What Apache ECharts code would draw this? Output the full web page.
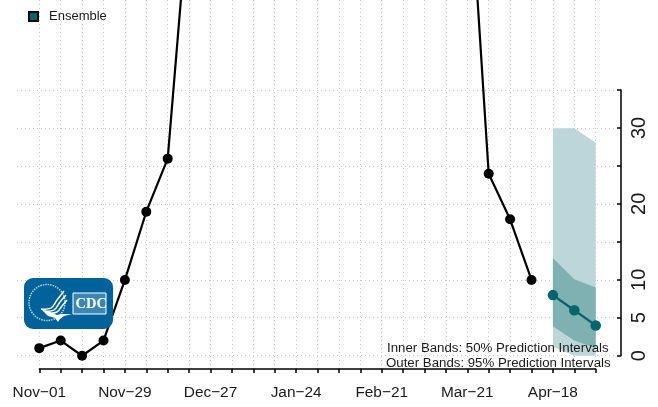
<!DOCTYPE html>
<html><head><meta charset="utf-8">
<script src="https://cdn.jsdelivr.net/npm/echarts@6/dist/echarts.min.js"></script>
<style>html,body{margin:0;padding:0;background:#fff}#c{width:658px;height:407px}</style>
</head><body><div id="c"></div>
<script>
var weeks = ['Nov-01','Nov-08','Nov-15','Nov-22','Nov-29','Dec-06','Dec-13','Dec-20','Dec-27','Jan-03','Jan-10','Jan-17','Jan-24','Jan-31','Feb-07','Feb-14','Feb-21','Feb-28','Mar-07','Mar-14','Mar-21','Mar-28','Apr-04','Apr-11','Apr-18','Apr-25','May-02'];
var labelledWeeks = ['Nov-01','Nov-29','Dec-27','Jan-24','Feb-21','Mar-21','Apr-18'];
// null = above the visible part of the plot, cannot be read
var observed = [1,2,0,2,10,19,26,60,null,null,null,null,null,null,null,null,null,null,null,null,68,24,18,10,null,null,null];
var forecastWeeks = ['Apr-18','Apr-25','May-02'];
var ensemble = [8,6,4];
var outerLow = [1.2,0,0];
var outerHigh = [30,30,28.1];
var innerLow = [3.9,2,1];
var innerHigh = [12.9,10.1,9];
var yTicksShown = [0,5,10,20,30];
var TEAL = '#00666b';

function band(low, high, color, name){
  return {
    type:'custom', name:name, xAxisIndex:0, yAxisIndex:0, silent:true, z:2,
    data:[[forecastWeeks[0], high[0]]],
    renderItem:function(p, api){
      var pts=[], i;
      for(i=0;i<forecastWeeks.length;i++) pts.push(api.coord([forecastWeeks[i],high[i]]));
      for(i=forecastWeeks.length-1;i>=0;i--) pts.push(api.coord([forecastWeeks[i],low[i]]));
      return {type:'polygon',shape:{points:pts},style:{fill:color}};
    }
  };
}
var chart = echarts.init(document.getElementById('c'),null,{renderer:'canvas'});
var FONT='"Liberation Sans", Arial, sans-serif';
var ensembleSeries = weeks.map(function(w){var k=forecastWeeks.indexOf(w);return k<0?null:ensemble[k];});
function stripe(points,w){return {type:'polyline',z:32,shape:{points:points,smooth:0.4},style:{fill:'none',stroke:'#fff',lineWidth:w||1.4}};}
chart.setOption({
  animation:false,
  backgroundColor:'#fff',
  textStyle:{fontFamily:FONT},
  legend:{left:28,top:10,itemWidth:9,itemHeight:9,itemGap:0,padding:0,selectedMode:false,
    data:[{name:'Ensemble',icon:'rect',itemStyle:{color:TEAL,borderColor:'#000',borderWidth:2}}],
    textStyle:{fontFamily:FONT,fontSize:13,color:'#1a1a1a',padding:[0,0,0,6]}},
  grid:[
    {left:39.3,right:62.3,top:0,bottom:38,containLabel:false},
    {left:17,right:37,top:90,bottom:51.3,containLabel:false}
  ],
  xAxis:[
    {type:'category',gridIndex:0,data:weeks,boundaryGap:false,
     axisLine:{show:true,onZero:false,lineStyle:{color:'#000',width:1.5}},
     axisTick:{show:true,interval:0,length:4,lineStyle:{color:'#000',width:1.5}},
     axisLabel:{interval:0,margin:16,fontSize:15.4,color:'#1a1a1a',fontFamily:FONT,hideOverlap:false,showMinLabel:true,showMaxLabel:false,
       formatter:function(v){return labelledWeeks.indexOf(v)>=0?v.replace('-','\u2212'):'';}},
     splitLine:{show:true,interval:0,lineStyle:{color:'#c8c8c8',type:[1,3],width:1}}},
    {type:'value',gridIndex:1,min:0,max:1,show:false}
  ],
  yAxis:[
    {type:'value',gridIndex:0,min:-1.75,max:46.93,show:false,splitLine:{show:false}},
    {type:'value',gridIndex:1,min:0,max:35,interval:5,position:'right',
     axisLine:{show:true,onZero:false,lineStyle:{color:'#000',width:1.5}},
     axisTick:{show:true,inside:true,length:4,lineStyle:{color:'#000',width:1.5}},
     axisLabel:{rotate:90,margin:8,fontSize:20,color:'#1a1a1a',fontFamily:FONT,
       formatter:function(v){return yTicksShown.indexOf(v)>=0?String(v):'';}},
     splitLine:{show:true,lineStyle:{color:'#c8c8c8',type:[1,3],width:1}}}
  ],
  series:[
    band(outerLow,outerHigh,'#bcd6d9','95% band'),
    band(innerLow,innerHigh,'#7fb0b2','50% band'),
    {type:'line',name:'Observed',xAxisIndex:0,yAxisIndex:0,data:observed,connectNulls:false,z:3,
     symbol:'circle',symbolSize:10,showSymbol:true,showAllSymbols:true,
     lineStyle:{color:'#000',width:2.2},itemStyle:{color:'#000'}},
    {type:'line',name:'Ensemble',xAxisIndex:0,yAxisIndex:0,data:ensembleSeries,z:4,
     symbol:'circle',symbolSize:10.5,showSymbol:true,
     lineStyle:{color:TEAL,width:2.2},itemStyle:{color:TEAL}}
  ],
  graphic:[
    {type:'text',z:20,x:387,y:342,style:{text:'Inner Bands: 50% Prediction Intervals',fontFamily:FONT,fontSize:13.25,fill:'#1a1a1a'}},
    {type:'text',z:20,x:386,y:357,style:{text:'Outer Bands: 95% Prediction Intervals',fontFamily:FONT,fontSize:13.25,fill:'#1a1a1a'}},
    {type:'group',x:24,y:278,z:30,children:[
      {type:'rect',shape:{x:0,y:0,width:89,height:51,r:9},style:{fill:'#00629b'},z:30},
      {type:'circle',z:31,shape:{cx:23,cy:24.5,r:18},style:{fill:'none',stroke:'#b9d3e4',lineWidth:1.5,lineDash:[1.5,1]}},
      stripe([[17,31],[27,30],[33,22],[40,13]]),
      stripe([[21,33],[30,32],[36,24],[42,17]]),
      stripe([[24,35],[33,34],[38,28],[43,22]]),
      {type:'polygon',z:32,shape:{points:[[17,31],[26,34],[33,37],[38,36],[48,36],[40,38],[36,41],[34,44],[31,40],[24,38]]},style:{fill:'#fff'}},
      {type:'rect',z:31,shape:{x:49,y:15,width:33,height:21},style:{fill:'#3c86b4',stroke:'#fff',lineWidth:1}},
      {type:'text',z:33,x:51.5,y:18.5,style:{text:'CDC',fontFamily:'"Liberation Serif", serif',fontWeight:'bold',fontSize:14.5,fill:'#fff'}}
    ]}
  ]
});
</script></body></html>
